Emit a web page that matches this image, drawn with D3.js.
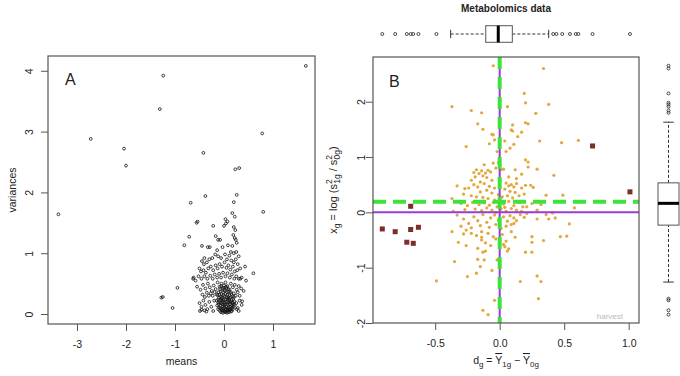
<!DOCTYPE html>
<html>
<head>
<meta charset="utf-8">
<script src="https://cdn.jsdelivr.net/npm/d3@7"></script>
<style>
  body { margin: 0; background: #fff; }
  svg text { font-family: "Liberation Sans", Arial, sans-serif; fill: #222; }
</style>
</head>
<body>
<svg id="svg1"></svg>
<script>
let width = 680;
let height = 376;

// panel A: gene means vs variances
let meanVar = [
  [-3.38,1.64],[-2.72,2.88],[-2.04,2.72],[-2.00,2.44],[-1.31,3.37],[-1.24,3.92],[-1.28,0.27],[-1.25,0.28],
  [-1.05,0.10],[-0.95,0.43],[-0.81,1.13],[-0.71,1.27],[-0.68,1.83],[-0.63,0.58],[-0.42,2.65],[-0.38,1.94],
  [0.26,1.96],[0.23,2.38],[0.31,2.40],[0.20,1.84],[0.17,1.66],[0.22,1.60],[0.43,0.78],[0.60,0.67],
  [0.78,2.97],[0.80,1.68],[1.67,4.08],[0.37,0.21],[0.33,0.58],[-0.49,0.05],[-0.46,0.07],[0.45,0.55],
  [-0.56,1.50],[-0.54,1.52],[-0.22,1.45],[-0.17,1.28],[-0.12,1.22],[-0.08,1.22],[0.00,1.45],[0.03,1.56],
  [0.07,1.52],[0.04,1.49],[0.20,1.43],[0.23,1.38],[0.22,1.25],[0.24,1.22],[0.26,1.17],[0.19,1.30],
  [0.17,1.12],[0.14,1.02],[0.20,1.00],[0.25,1.02],[-0.33,1.10],[-0.29,1.10],[-0.45,1.12],[-0.03,1.10],
  [0.08,1.13],[-0.14,1.05],[0.30,0.95],[-0.40,0.92],
  [-0.45,0.87],[-0.41,0.82],[-0.35,0.85],[-0.30,0.90],[-0.24,0.92],[-0.18,0.98],[-0.12,0.95],[-0.06,0.92],
  [0.02,0.98],[0.06,0.90],[0.11,0.96],[0.15,0.88],[0.20,0.85],[0.24,0.90],[0.28,0.82],[-0.50,0.75],
  [-0.47,0.70],[-0.42,0.72],[-0.37,0.68],[-0.32,0.75],[-0.27,0.78],[-0.22,0.72],[-0.17,0.80],[-0.13,0.75],
  [-0.09,0.82],[-0.04,0.78],[0.01,0.85],[0.05,0.76],[0.09,0.80],[0.13,0.73],[0.18,0.78],[0.22,0.70],
  [0.27,0.72],[0.33,0.75],[-0.52,0.62],[-0.46,0.58],[-0.40,0.62],[-0.34,0.58],[-0.28,0.63],[-0.23,0.58],
  [-0.19,0.65],[-0.14,0.60],[-0.10,0.66],[-0.06,0.60],[-0.02,0.68],[0.03,0.62],[0.07,0.67],[0.12,0.60],
  [0.16,0.65],[0.21,0.58],[0.25,0.62],[0.30,0.58],[0.36,0.60],[-0.58,0.55],[-0.62,0.60],
  [-0.55,0.45],[-0.48,0.40],[-0.43,0.48],[-0.38,0.42],[-0.33,0.50],[-0.29,0.44],[-0.25,0.38],[-0.21,0.47],
  [-0.17,0.41],[-0.13,0.52],[-0.09,0.45],[-0.05,0.50],[-0.01,0.43],[0.03,0.52],[0.07,0.46],[0.11,0.40],
  [0.14,0.50],[0.18,0.44],[0.22,0.48],[0.26,0.40],[0.30,0.46],[0.35,0.42],[0.40,0.38],[-0.44,0.32],
  [-0.39,0.28],[-0.35,0.35],[-0.31,0.30],[-0.27,0.34],[-0.23,0.30],[-0.19,0.36],[-0.15,0.32],[0.20,0.34],
  [0.24,0.30],[0.28,0.36],[0.32,0.30],[-0.50,0.18],[-0.46,0.12],[-0.42,0.22],[-0.38,0.15],[-0.34,0.08],
  [-0.30,0.20],[-0.26,0.12],[-0.22,0.05],[-0.20,0.22],[0.25,0.18],[0.28,0.10],[0.32,0.22],[0.36,0.15],
  [-0.40,0.06],[-0.36,0.04],[0.30,0.05],[0.26,0.08],
  [-0.06,0.03],[-0.02,0.02],[0.02,0.03],[0.06,0.02],[0.10,0.03],[0.14,0.04],[0.00,0.05],[0.04,0.04],
  [0.08,0.05],[-0.04,0.06],[0.12,0.06],[-0.12,0.08],[-0.08,0.09],[-0.05,0.08],[-0.01,0.09],[0.03,0.08],
  [0.07,0.09],[0.11,0.08],[0.15,0.09],[0.18,0.08],[-0.10,0.11],[-0.03,0.12],[0.01,0.11],[0.05,0.12],
  [0.09,0.11],[0.13,0.12],[0.17,0.11],[0.20,0.12],[-0.14,0.14],[-0.11,0.16],[-0.07,0.14],[-0.04,0.16],
  [0.00,0.14],[0.04,0.16],[0.08,0.15],[0.12,0.16],[0.16,0.14],[0.19,0.16],[0.22,0.15],[-0.09,0.19],
  [-0.06,0.18],[-0.02,0.20],[0.02,0.19],[0.06,0.20],[0.10,0.19],[0.14,0.20],[0.18,0.19],[0.21,0.21],
  [-0.15,0.22],[-0.12,0.24],[-0.08,0.23],[-0.05,0.25],[-0.01,0.23],[0.03,0.24],[0.07,0.23],[0.11,0.25],
  [0.15,0.23],[0.19,0.25],[-0.10,0.27],[-0.06,0.28],[-0.03,0.27],[0.01,0.29],[0.05,0.27],[0.09,0.28],
  [0.13,0.27],[0.17,0.29],[0.20,0.28],[-0.13,0.31],[-0.09,0.32],[-0.05,0.33],[-0.01,0.31],[0.03,0.33],
  [0.07,0.32],[0.11,0.31],[0.15,0.33],[-0.11,0.36],[-0.07,0.37],[-0.02,0.36],[0.02,0.38],[0.06,0.36],
  [0.10,0.37],[0.14,0.36],[-0.08,0.41],[-0.03,0.42],[0.01,0.40],[0.05,0.43],[0.09,0.41],[-0.06,0.46],
  [0.00,0.47],[0.04,0.45],[-0.02,0.06],[0.05,0.07],[0.09,0.07],[0.01,0.16],[0.11,0.21],[-0.04,0.22],
  [0.08,0.26],[0.16,0.05],[-0.08,0.05],[-0.12,0.19],[0.17,0.18]
];

// panel B: d_g vs x_g, ordinary metabolites
let dxPoints = [
  [-0.05,2.65],[0.34,2.60],[0.19,2.15],[0.20,1.98],[0.06,1.91],[-0.37,1.91],[0.38,1.95],[-0.22,1.84],
  [-0.14,1.80],[0.28,1.79],[-0.17,1.60],[0.10,1.58],[0.20,1.62],[0.22,1.60],[-0.13,1.50],[0.10,1.47],
  [0.09,1.49],[0.17,1.45],[0.14,1.37],[-0.06,1.41],[-0.05,1.40],[0.04,1.29],[-0.08,1.24],[0.11,1.23],
  [0.31,1.29],[0.48,1.26],[0.61,1.30],[-0.26,1.19],[0.05,1.10],[0.08,1.16],[-0.02,1.10],[-0.04,1.31],
  [0.20,0.95],[0.22,0.91],[0.00,0.92],[-0.05,0.89],[-0.01,0.90],[0.22,0.82],[0.29,0.78],[0.03,0.78],
  [0.12,0.77],[0.01,0.77],[-0.20,0.72],[-0.18,0.77],[-0.16,0.70],[-0.14,0.75],[-0.11,0.71],[-0.09,0.76],
  [-0.07,0.73],[-0.13,0.66],[-0.19,0.64],[-0.10,0.63],[0.42,0.67],[0.13,0.61],[0.07,0.64],[0.17,0.69],
  [-0.22,0.58],[-0.06,0.58],[-0.15,0.55],[-0.03,0.80],[-0.12,0.86],
  [-0.33,0.48],[-0.27,0.43],[-0.24,0.44],[-0.20,0.50],[-0.17,0.46],[-0.12,0.52],[-0.08,0.47],[-0.04,0.44],
  [-0.10,0.40],[-0.15,0.37],[-0.06,0.35],[0.05,0.53],[0.07,0.48],[0.09,0.50],[0.11,0.46],[0.13,0.52],
  [0.04,0.42],[0.08,0.38],[0.12,0.36],[0.17,0.44],[0.20,0.49],[0.26,0.45],[0.24,0.49],[0.36,0.31],
  [0.49,0.31],[-0.37,0.25],[-0.28,0.33],[-0.22,0.30],[-0.18,0.28],[-0.01,0.32],[0.02,0.28],[0.06,0.30],
  [0.15,0.30],[0.19,0.33],[0.10,0.26],[-0.13,0.27],[-0.09,0.25],[-0.04,0.22],
  [-0.30,0.16],[-0.25,0.12],[-0.21,0.18],[-0.16,0.14],[-0.12,0.17],[-0.08,0.13],[-0.05,0.18],[-0.02,0.10],
  [0.03,0.15],[0.07,0.20],[0.11,0.12],[0.15,0.18],[0.18,0.10],[0.21,0.10],[0.25,0.16],[0.32,0.14],
  [0.58,0.08],[-0.36,0.02],[-0.27,0.05],[-0.19,0.06],[-0.14,0.03],[-0.10,0.08],[-0.06,0.04],[0.01,0.06],
  [0.05,0.02],[0.09,0.07],[0.13,0.04],[0.17,0.02],[0.29,0.04],[-0.03,0.00],[0.04,0.09],
  [-0.37,-0.35],[-0.33,-0.05],[-0.28,-0.12],[-0.24,-0.20],[-0.20,-0.08],[-0.17,-0.15],[-0.13,-0.04],[-0.10,-0.18],
  [-0.07,-0.10],[-0.04,-0.05],[-0.01,-0.14],[0.03,-0.08],[0.06,-0.16],[0.08,-0.06],[0.11,-0.10],[0.11,-0.20],
  [0.13,-0.15],[0.09,-0.22],[0.29,-0.12],[0.38,-0.12],[0.43,-0.10],[0.54,-0.21],[0.36,-0.04],[-0.30,-0.25],
  [-0.22,-0.28],[-0.15,-0.24],[-0.08,-0.27],[-0.03,-0.22],[0.01,-0.29],[0.05,-0.25],[-0.26,-0.32],[0.16,-0.04],
  [0.19,-0.09],[0.21,-0.02],[0.47,-0.44],[0.41,-0.01],
  [-0.32,-0.54],[-0.28,-0.39],[-0.22,-0.38],[-0.14,-0.35],[-0.14,-0.45],[-0.14,-0.50],[-0.18,-0.42],[-0.09,-0.38],
  [-0.05,-0.44],[-0.11,-0.55],[-0.17,-0.65],[-0.13,-0.72],[-0.11,-0.70],[-0.07,-0.60],[-0.03,-0.48],[0.02,-0.40],
  [0.05,-0.52],[0.04,-0.62],[0.06,-0.70],[0.07,-0.66],[0.03,-0.58],[0.20,-0.72],[0.25,-0.72],[0.25,-0.54],
  [0.25,-0.44],[0.34,-0.51],[0.52,-0.43],[0.12,-0.45],[-0.26,-0.60],[0.09,-0.35],
  [-0.35,-0.89],[-0.17,-0.85],[-0.12,-0.86],[-0.02,-0.86],[-0.15,-0.98],[-0.18,-1.10],[-0.25,-1.16],[-0.49,-1.24],
  [-0.04,-1.59],[-0.13,-1.77],[-0.09,-1.85],[0.16,-1.25],[0.29,-1.15],[0.32,-1.25],[0.30,-1.56],[-0.06,-1.05],
  [0.00,-0.95]
];

// panel B: flagged metabolites (squares)
let flagged = [
  [-0.91,-0.30],[-0.81,-0.35],[-0.72,-0.54],[-0.69,0.11],[-0.69,-0.31],[-0.67,-0.56],[-0.63,-0.27],
  [0.72,1.20],[1.01,0.37]
];

// boxplot summaries: [lower whisker, Q1, median, Q3, upper whisker]
let dBox = [-0.38, -0.108, -0.011, 0.098, 0.38];
let dOut = [-0.91, -0.81, -0.72, -0.69, -0.67, -0.63, -0.49, 0.415, 0.44, 0.485, 0.545, 0.59, 0.61, 0.72, 1.01];
let xBox = [-1.26, -0.231, 0.163, 0.533, 1.63];
let xOut = [1.80, 1.84, 1.91, 1.95, 1.98, 2.15, 2.60, 2.65, -1.56, -1.59, -1.77, -1.85];

let ticksAx = [-3, -2, -1, 0, 1];
let ticksAy = [0, 1, 2, 3, 4];
let ticksBx = [-0.5, 0, 0.5, 1];
let ticksBy = [-2, -1, 0, 1, 2];

let refSolid = [0, 0];     // purple lines at d = 0, x = 0
let refDashed = [0, 0.19]; // green dashed lines

let svg1 = d3.select('#svg1')
  .attr('width', width)
  .attr('height', height);

svg1.append('rect').attr('width', width).attr('height', height).attr('fill', '#fff');

let xA = d3.scaleLinear().domain([-3.592, 1.857]).range([48, 315]);
let yA = d3.scaleLinear().domain([-0.164, 4.243]).range([324, 56]);
let xB = d3.scaleLinear().domain([-0.982, 1.080]).range([373, 639]);
let yB = d3.scaleLinear().domain([-2.0, 2.808]).range([323, 57]);

let boxColor = '#555';
let fontSize = 10.5;

function drawAxes(xs, ys, xt, yt, xfmt, yoff) {
  let gx = svg1.append('g')
    .attr('transform', `translate(0,${ys.range()[0]})`)
    .call(d3.axisBottom(xs).tickValues(xt).tickSize(7).tickFormat(xfmt));
  gx.select('.domain').remove();
  gx.selectAll('line').attr('stroke', boxColor);
  gx.selectAll('text').attr('y', 24).attr('dy', 0).attr('font-size', fontSize).attr('fill', '#222');

  let gy = svg1.append('g')
    .attr('transform', `translate(${xs.range()[0]},0)`)
    .call(d3.axisLeft(ys).tickValues(yt).tickSize(7).tickFormat(d => String(d)));
  gy.select('.domain').remove();
  gy.selectAll('line').attr('stroke', boxColor);
  gy.selectAll('text')
    .attr('transform', 'rotate(-90)')
    .attr('x', 0).attr('y', -yoff).attr('dy', 0)
    .attr('text-anchor', 'middle')
    .attr('font-size', fontSize).attr('fill', '#222');

  svg1.append('rect')
    .attr('x', xs.range()[0]).attr('y', ys.range()[1])
    .attr('width', xs.range()[1] - xs.range()[0])
    .attr('height', ys.range()[0] - ys.range()[1])
    .attr('fill', 'none').attr('stroke', boxColor).attr('stroke-width', 1.2);
}

// ---- panel A
svg1.append('g')
  .selectAll('circle')
  .data(meanVar)
  .join('circle')
    .attr('cx', d => xA(d[0]))
    .attr('cy', d => yA(d[1]))
    .attr('r', 1.4)
    .attr('fill', 'none')
    .attr('stroke', '#111')
    .attr('stroke-width', 0.8);

drawAxes(xA, yA, ticksAx, ticksAy, d => String(d), 15);

svg1.append('text').attr('x', 65).attr('y', 85).attr('font-size', 16).text('A');
svg1.append('text').attr('x', 181.5).attr('y', 365).attr('text-anchor', 'middle')
  .attr('font-size', fontSize).text('means');
svg1.append('text').attr('transform', 'translate(16,190) rotate(-90)').attr('text-anchor', 'middle')
  .attr('font-size', fontSize).text('variances');

// ---- panel B
let clipB = svg1.append('clipPath').attr('id', 'clipB').append('rect')
  .attr('x', 371).attr('y', 55).attr('width', 270).attr('height', 270);

svg1.append('g')
  .selectAll('circle')
  .data(dxPoints)
  .join('circle')
    .attr('cx', d => xB(d[0]))
    .attr('cy', d => yB(d[1]))
    .attr('r', 1.6)
    .attr('fill', '#e2a83c');

svg1.append('g')
  .selectAll('rect')
  .data(flagged)
  .join('rect')
    .attr('x', d => xB(d[0]) - 2.5)
    .attr('y', d => yB(d[1]) - 2.5)
    .attr('width', 5).attr('height', 5)
    .attr('fill', '#7b2d26');

let lines = svg1.append('g').attr('clip-path', 'url(#clipB)');
lines.append('line')
  .attr('x1', xB.range()[0]).attr('x2', xB.range()[1])
  .attr('y1', yB(refSolid[1])).attr('y2', yB(refSolid[1]))
  .attr('stroke', '#9a3ad8').attr('stroke-width', 2);
lines.append('line')
  .attr('x1', xB(refSolid[0])).attr('x2', xB(refSolid[0]))
  .attr('y1', yB.range()[0]).attr('y2', yB.range()[1])
  .attr('stroke', '#9a3ad8').attr('stroke-width', 2);
lines.append('line')
  .attr('x1', xB.range()[0]).attr('x2', xB.range()[1])
  .attr('y1', yB(refDashed[1])).attr('y2', yB(refDashed[1]))
  .attr('stroke', '#3ee23a').attr('stroke-width', 4).attr('stroke-dasharray', '13,7');
lines.append('line')
  .attr('x1', xB(refDashed[0])).attr('x2', xB(refDashed[0]))
  .attr('y1', yB.range()[1]).attr('y2', yB.range()[0])
  .attr('stroke', '#3ee23a').attr('stroke-width', 4).attr('stroke-dasharray', '12,8');

drawAxes(xB, yB, ticksBx, ticksBy, d => d.toFixed(1), 8);

svg1.append('text').attr('x', 389).attr('y', 87).attr('font-size', 16).text('B');
svg1.append('text').attr('x', 623).attr('y', 319).attr('text-anchor', 'end')
  .attr('font-size', 8).style('fill', '#bbb').text('harvest');

// x label: d_g = Ybar_1g - Ybar_0g
let xl = svg1.append('text').attr('x', 506).attr('y', 364).attr('text-anchor', 'middle')
  .attr('font-size', fontSize);
xl.append('tspan').text('d');
xl.append('tspan').attr('dy', 3).attr('font-size', 8).text('g');
xl.append('tspan').attr('dy', -3).text(' = ');
xl.append('tspan').style('text-decoration', 'overline').text('Y');
xl.append('tspan').attr('dy', 3).attr('font-size', 8).text('1g');
xl.append('tspan').attr('dy', -3).text(' \u2212 ');
xl.append('tspan').style('text-decoration', 'overline').text('Y');
xl.append('tspan').attr('dy', 3).attr('font-size', 8).text('0g');

// y label: x_g = log(s^2_1g / s^2_0g)
let yl = svg1.append('text').attr('transform', 'translate(337,190) rotate(-90)')
  .attr('text-anchor', 'middle').attr('font-size', 11);
yl.append('tspan').text('x');
yl.append('tspan').attr('dy', 3).attr('font-size', 8.5).text('g');
yl.append('tspan').attr('dy', -3).text(' = log (s');
yl.append('tspan').attr('dy', -5).attr('font-size', 8.5).text('2');
yl.append('tspan').attr('dx', -4.5).attr('dy', 8).attr('font-size', 8.5).text('1g');
yl.append('tspan').attr('dy', -3).text(' / s');
yl.append('tspan').attr('dy', -5).attr('font-size', 8.5).text('2');
yl.append('tspan').attr('dx', -4.5).attr('dy', 8).attr('font-size', 8.5).text('0g');
yl.append('tspan').attr('dy', -3).text(')');

// ---- marginal boxplots
svg1.append('text').attr('x', 506).attr('y', 12).attr('text-anchor', 'middle')
  .attr('font-size', 10).attr('font-weight', 'bold').text('Metabolomics data');

function hBox(stats, outs, scale, cy, half) {
  let g = svg1.append('g');
  g.append('line').attr('x1', scale(stats[0])).attr('x2', scale(stats[1]))
    .attr('y1', cy).attr('y2', cy).attr('stroke', '#333').attr('stroke-dasharray', '3,2');
  g.append('line').attr('x1', scale(stats[3])).attr('x2', scale(stats[4]))
    .attr('y1', cy).attr('y2', cy).attr('stroke', '#333').attr('stroke-dasharray', '3,2');
  [stats[0], stats[4]].forEach(v => g.append('line')
    .attr('x1', scale(v)).attr('x2', scale(v)).attr('y1', cy - half / 2).attr('y2', cy + half / 2)
    .attr('stroke', '#333'));
  g.append('rect').attr('x', scale(stats[1])).attr('y', cy - half)
    .attr('width', scale(stats[3]) - scale(stats[1])).attr('height', 2 * half)
    .attr('fill', '#fff').attr('stroke', '#555');
  g.append('line').attr('x1', scale(stats[2])).attr('x2', scale(stats[2]))
    .attr('y1', cy - half).attr('y2', cy + half).attr('stroke', '#000').attr('stroke-width', 3);
  g.selectAll('circle').data(outs).join('circle')
    .attr('cx', d => scale(d)).attr('cy', cy).attr('r', 1.5)
    .attr('fill', 'none').attr('stroke', '#222').attr('stroke-width', 0.8);
}

function vBox(stats, outs, scale, cx, half) {
  let g = svg1.append('g');
  g.append('line').attr('y1', scale(stats[0])).attr('y2', scale(stats[1]))
    .attr('x1', cx).attr('x2', cx).attr('stroke', '#333').attr('stroke-dasharray', '3,2');
  g.append('line').attr('y1', scale(stats[3])).attr('y2', scale(stats[4]))
    .attr('x1', cx).attr('x2', cx).attr('stroke', '#333').attr('stroke-dasharray', '3,2');
  [stats[0], stats[4]].forEach(v => g.append('line')
    .attr('y1', scale(v)).attr('y2', scale(v)).attr('x1', cx - half / 2).attr('x2', cx + half / 2)
    .attr('stroke', '#333'));
  g.append('rect').attr('y', scale(stats[3])).attr('x', cx - half)
    .attr('height', scale(stats[1]) - scale(stats[3])).attr('width', 2 * half)
    .attr('fill', '#fff').attr('stroke', '#555');
  g.append('line').attr('y1', scale(stats[2])).attr('y2', scale(stats[2]))
    .attr('x1', cx - half).attr('x2', cx + half).attr('stroke', '#000').attr('stroke-width', 3);
  g.selectAll('circle').data(outs).join('circle')
    .attr('cy', d => scale(d)).attr('cx', cx).attr('r', 1.5)
    .attr('fill', 'none').attr('stroke', '#222').attr('stroke-width', 0.8);
}

hBox(dBox, dOut, xB, 34, 8.3);
vBox(xBox, xOut, yB, 668.5, 10.5);
</script>
</body>
</html>
